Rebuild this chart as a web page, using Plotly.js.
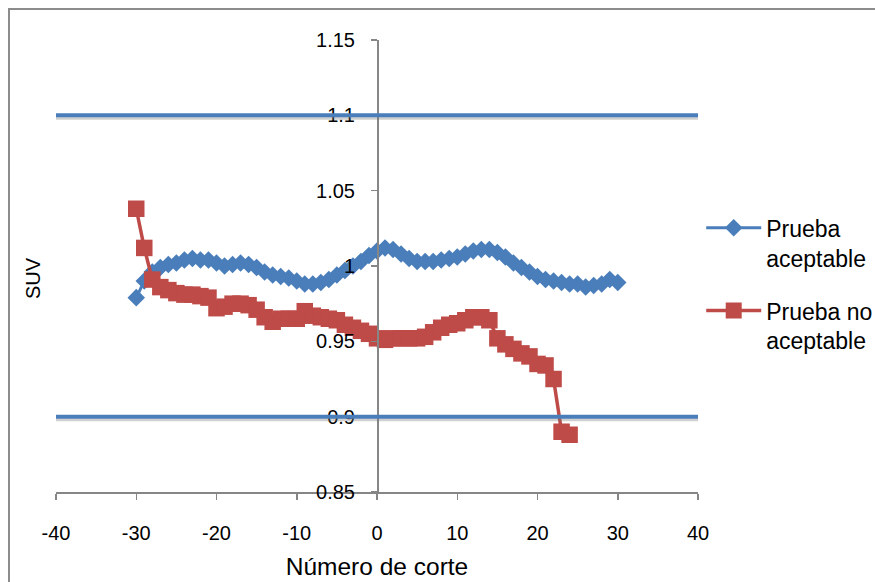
<!DOCTYPE html>
<html>
<head>
<meta charset="utf-8">
<script src="https://cdn.plot.ly/plotly-3.0.1.min.js"></script>
<style>
  html, body { margin: 0; padding: 0; background: #ffffff; overflow: hidden; }
  #frame {
    position: absolute; left: 8px; top: 8px; width: 900px; height: 600px;
    border-left: 2.5px solid #8c8c8c; border-top: 2.5px solid #8c8c8c;
  }
  #chart { position: absolute; left: 0; top: 0; width: 875px; height: 582px; }
</style>
</head>
<body>
<div id="frame"></div>
<div id="chart"></div>
<script>
// Cut numbers and SUV values for each test
const acceptableX = [-30,-29,-28,-27,-26,-25,-24,-23,-22,-21,-20,-19,-18,-17,-16,-15,-14,-13,-12,-11,
  -10,-9,-8,-7,-6,-5,-4,-3,-2,-1,0,1,2,3,4,5,6,7,8,9,10,11,12,13,14,15,16,17,18,19,20,
  21,22,23,24,25,26,27,28,29,30];
const acceptableSUV = [0.979,0.990,0.996,0.999,1.001,1.002,1.004,1.005,1.004,1.004,
  1.002,1.000,1.001,1.002,1.001,0.999,0.996,0.994,0.993,0.992,
  0.990,0.988,0.988,0.989,0.991,0.994,0.997,1.000,1.003,1.007,
  1.010,1.012,1.011,1.008,1.005,1.003,1.003,1.003,1.004,1.005,
  1.006,1.008,1.010,1.011,1.011,1.009,1.006,1.002,0.999,0.996,
  0.993,0.991,0.990,0.989,0.988,0.988,0.986,0.987,0.988,0.991,0.989];

const rejectedX = [-30,-29,-28,-27,-26,-25,-24,-23,-22,-21,-20,-19,-18,-17,-16,-15,-14,-13,-12,-11,
  -10,-9,-8,-7,-6,-5,-4,-3,-2,-1,0,1,2,3,4,5,6,7,8,9,10,11,12,13,14,15,16,17,18,19,20,
  21,22,23,24];
const rejectedSUV = [1.038,1.012,0.991,0.986,0.984,0.982,0.981,0.981,0.980,0.979,
  0.972,0.973,0.975,0.975,0.974,0.971,0.966,0.963,0.965,0.965,
  0.965,0.970,0.967,0.966,0.965,0.964,0.961,0.959,0.957,0.955,
  0.952,0.951,0.952,0.952,0.952,0.952,0.953,0.956,0.959,0.961,
  0.962,0.964,0.966,0.966,0.964,0.952,0.948,0.945,0.942,0.940,
  0.935,0.934,0.925,0.890,0.888];

// Acceptance limits drawn as horizontal reference lines
const limitSUV = [0.9, 1.1];

// Axis ticks
const xTickVals = [-40,-30,-20,-10,0,10,20,30,40];
const xTickText = ['-40','-30','-20','-10','0','10','20','30','40'];
const yTickVals = [0.85,0.9,0.95,1,1.05,1.1,1.15];
const yTickText = ['0.85','0.9','0.95','1','1.05','1.1','1.15'];

const BLUE = '#4a7ebb';
const RED = '#be4b48';
const AXIS = '#868686';
const FONT = '"Liberation Sans", Arial, sans-serif';

const traces = [
  {
    x: acceptableX, y: acceptableSUV, type: 'scatter', mode: 'lines+markers',
    name: 'Prueba<br>aceptable', legendgroup: 'ok',
    line: { color: BLUE, width: 3 },
    marker: { symbol: 'diamond', size: 13.5, color: BLUE, line: { width: 0 } }
  },
  {
    x: rejectedX, y: rejectedSUV, type: 'scatter', mode: 'lines+markers',
    name: 'Prueba no<br>aceptable', legendgroup: 'nok',
    line: { color: RED, width: 3.5 },
    marker: { symbol: 'square', size: 16.5, color: RED, line: { width: 0 } }
  }
];

const shapes = [];
limitSUV.forEach(v => {
  // soft shadow under each limit line
  shapes.push({
    type: 'line', xref: 'x', yref: 'y', ysizemode: 'pixel', yanchor: v,
    x0: -40.5, x1: 40.3, y0: -3, y1: -3, layer: 'above',
    line: { color: 'rgba(120,120,120,0.35)', width: 3 }
  });
  shapes.push({
    type: 'line', xref: 'x', yref: 'y',
    x0: -40.5, x1: 40.3, y0: v, y1: v, layer: 'above',
    line: { color: BLUE, width: 4 }
  });
});

const layout = {
  width: 875, height: 582,
  margin: { l: 56, r: 177, t: 40, b: 90, autoexpand: false },
  paper_bgcolor: 'rgba(0,0,0,0)',
  plot_bgcolor: 'rgba(0,0,0,0)',
  font: { family: FONT, color: '#000000', size: 20 },
  showlegend: true,
  legend: {
    x: 1.005, xanchor: 'left', y: 0.632, yanchor: 'top',
    font: { family: FONT, size: 23, color: '#000000' },
    valign: 'top', itemwidth: 55, tracegroupgap: 20,
    bgcolor: 'rgba(0,0,0,0)'
  },
  xaxis: {
    range: [-40, 40], tickvals: xTickVals, ticktext: xTickText,
    showgrid: false, zeroline: false,
    showline: true, linecolor: AXIS, linewidth: 1.5,
    ticks: 'outside', ticklen: 6, tickcolor: AXIS, tickwidth: 1.5,
    ticklabelstandoff: 16,
    tickfont: { family: FONT, size: 20 },
    title: { text: 'Número de corte', font: { family: FONT, size: 24.5 }, standoff: 15 }
  },
  yaxis: {
    range: [0.85, 1.15], tickvals: yTickVals, ticktext: yTickText,
    anchor: 'free', position: 0.5,
    showgrid: false, zeroline: false,
    showline: true, linecolor: AXIS, linewidth: 1.5,
    ticks: 'outside', ticklen: 6, tickcolor: AXIS, tickwidth: 1.5,
    ticklabelstandoff: 12,
    tickfont: { family: FONT, size: 20 }
  },
  shapes: shapes,
  annotations: [{
    text: 'SUV', xref: 'paper', yref: 'paper', x: -0.036, y: 0.473,
    xanchor: 'center', yanchor: 'middle',
    textangle: -90, showarrow: false,
    font: { family: FONT, size: 20, color: '#000000' }
  }]
};

Plotly.newPlot('chart', traces, layout, { staticPlot: true, displayModeBar: false });
</script>
</body>
</html>
